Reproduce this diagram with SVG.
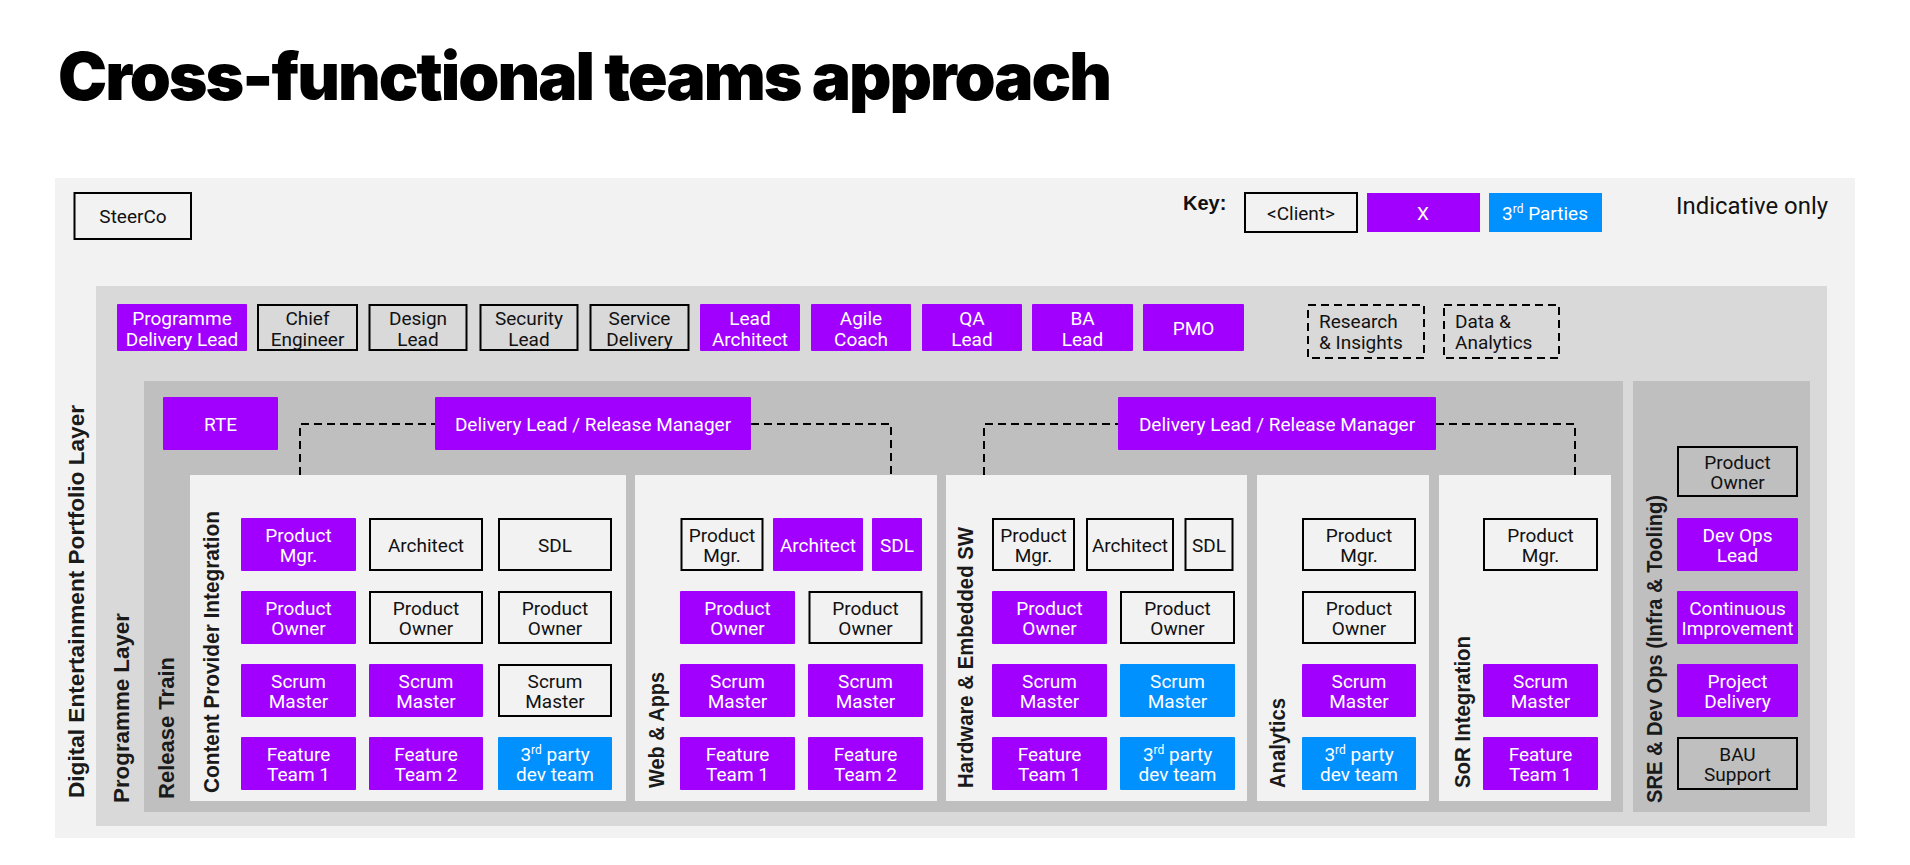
<svg xmlns="http://www.w3.org/2000/svg" width="1910" height="865" viewBox="0 0 1910 865">
<style>
.p{fill:#A100FF}
.b{fill:#0091FF}
.w{fill:#F2F2F2;stroke:#000;stroke-width:2}
.w2{fill:#D9D9D9;stroke:#000;stroke-width:2}
.w3{fill:#BFBFBF;stroke:#000;stroke-width:2}
.d{fill:#D9D9D9;stroke:#000;stroke-width:2;stroke-dasharray:8 5}
.t{font-family:Roboto,'Liberation Sans',Arial,sans-serif;font-size:19px;text-anchor:middle;fill:#111}
.tl{font-family:Roboto,'Liberation Sans',Arial,sans-serif;font-size:19px;fill:#111}
.tw{fill:#fff}
.vl{font-family:'Liberation Sans',Arial,sans-serif;font-weight:bold;font-size:22px;fill:#1a1a1a}
.sup{font-size:12px}
.con{fill:none;stroke:#000;stroke-width:2;stroke-dasharray:8 5}
</style>
<rect width="1910" height="865" fill="#fff"/>
<text x="58" y="100" font-family="Inter,'Liberation Sans',Arial,sans-serif" font-weight="900" font-size="66" letter-spacing="-2" textLength="1052" lengthAdjust="spacingAndGlyphs" fill="#000">Cross-functional teams approach</text>

<g id="panels">
<rect x="55" y="178" width="1800" height="660" fill="#F2F2F2"/>
<rect x="96" y="286" width="1731" height="540" fill="#D9D9D9"/>
<rect x="144" y="381" width="1479" height="431" fill="#BFBFBF"/>
<rect x="1633" y="381" width="177" height="431" fill="#BFBFBF"/>
<rect x="190" y="475" width="436" height="326" fill="#F2F2F2"/>
<rect x="635" y="475" width="302" height="326" fill="#F2F2F2"/>
<rect x="946" y="475" width="301" height="326" fill="#F2F2F2"/>
<rect x="1257" y="475" width="172" height="326" fill="#F2F2F2"/>
<rect x="1439" y="475" width="172" height="326" fill="#F2F2F2"/>
</g>

<g id="labels">
<text class="vl" transform="translate(84,798) rotate(-90)" textLength="393" lengthAdjust="spacingAndGlyphs">Digital Entertainment Portfolio Layer</text>
<text class="vl" transform="translate(129,803) rotate(-90)" textLength="190" lengthAdjust="spacingAndGlyphs">Programme Layer</text>
<text class="vl" transform="translate(174,799) rotate(-90)" textLength="142" lengthAdjust="spacingAndGlyphs">Release Train</text>
<text class="vl" transform="translate(219,793) rotate(-90)" textLength="282" lengthAdjust="spacingAndGlyphs">Content Provider Integration</text>
<text class="vl" transform="translate(664,788) rotate(-90)" textLength="116" lengthAdjust="spacingAndGlyphs">Web &amp; Apps</text>
<text class="vl" transform="translate(973,788) rotate(-90)" textLength="261" lengthAdjust="spacingAndGlyphs">Hardware &amp; Embedded SW</text>
<text class="vl" transform="translate(1285,788) rotate(-90)" textLength="90" lengthAdjust="spacingAndGlyphs">Analytics</text>
<text class="vl" transform="translate(1470,788) rotate(-90)" textLength="152" lengthAdjust="spacingAndGlyphs">SoR Integration</text>
<text class="vl" transform="translate(1662,803) rotate(-90)" textLength="308" lengthAdjust="spacingAndGlyphs">SRE &amp; Dev Ops (Infra &amp; Tooling)</text>
<text x="1183" y="210" font-family="'Liberation Sans',Arial,sans-serif" font-weight="bold" font-size="20" fill="#111">Key:</text>
<text x="1676" y="214" font-family="Roboto,'Liberation Sans',Arial,sans-serif" font-size="23" fill="#111" textLength="152" lengthAdjust="spacingAndGlyphs">Indicative only</text>
</g>

<g id="connectors">
<path class="con" d="M300,475 V424 H435"/>
<path class="con" d="M751,424 H891 V475"/>
<path class="con" d="M984,475 V424 H1118"/>
<path class="con" d="M1436,424 H1575 V475"/>
</g>

<g id="key-client"><rect class="w" x="1245" y="193" width="112" height="39"/><text class="t" x="1301" y="220" font-size="18">&lt;Client&gt;</text></g>
<g id="key-x"><rect class="p" x="1367" y="193" width="113" height="39"/><text class="t tw" x="1423" y="220" font-size="18">X</text></g>
<g id="key-3rd"><rect class="b" x="1489" y="193" width="113" height="39"/><text class="t tw" x="1545" y="220" font-size="18">3<tspan class="sup" dy="-7">rd</tspan><tspan dy="7"> Parties</tspan></text></g>

<g id="steerco"><rect class="w" x="74.5" y="193" width="116.5" height="46"/><text class="t" x="133" y="223">SteerCo</text></g>

<g id="prog-delivery-lead"><rect class="p" x="117" y="304" width="130" height="47" rx="1"/><text class="t tw" x="182" y="325">Programme</text><text class="t tw" x="182" y="345.5">Delivery Lead</text></g>
<g id="chief-engineer"><rect class="w2" x="258" y="305" width="99" height="45"/><text class="t" x="307.5" y="325">Chief</text><text class="t" x="307.5" y="345.5">Engineer</text></g>
<g id="design-lead"><rect class="w2" x="369.5" y="305" width="97" height="45"/><text class="t" x="418" y="325">Design</text><text class="t" x="418" y="345.5">Lead</text></g>
<g id="security-lead"><rect class="w2" x="480.5" y="305" width="97" height="45"/><text class="t" x="529" y="325">Security</text><text class="t" x="529" y="345.5">Lead</text></g>
<g id="service-delivery"><rect class="w2" x="590.5" y="305" width="98" height="45"/><text class="t" x="639.5" y="325">Service</text><text class="t" x="639.5" y="345.5">Delivery</text></g>
<g id="lead-architect"><rect class="p" x="700" y="304" width="100" height="47" rx="1"/><text class="t tw" x="750" y="325">Lead</text><text class="t tw" x="750" y="345.5">Architect</text></g>
<g id="agile-coach"><rect class="p" x="811" y="304" width="100" height="47" rx="1"/><text class="t tw" x="861" y="325">Agile</text><text class="t tw" x="861" y="345.5">Coach</text></g>
<g id="qa-lead"><rect class="p" x="922" y="304" width="100" height="47" rx="1"/><text class="t tw" x="972" y="325">QA</text><text class="t tw" x="972" y="345.5">Lead</text></g>
<g id="ba-lead"><rect class="p" x="1032" y="304" width="101" height="47" rx="1"/><text class="t tw" x="1082.5" y="325">BA</text><text class="t tw" x="1082.5" y="345.5">Lead</text></g>
<g id="pmo"><rect class="p" x="1143" y="304" width="101" height="47" rx="1"/><text class="t tw" x="1193.5" y="335">PMO</text></g>
<g id="research"><rect class="d" x="1308" y="305" width="116" height="53"/><text class="tl" x="1319" y="328">Research</text><text class="tl" x="1319" y="349">&amp; Insights</text></g>
<g id="data-analytics"><rect class="d" x="1444" y="305" width="115" height="53"/><text class="tl" x="1455" y="328">Data &amp;</text><text class="tl" x="1455" y="349">Analytics</text></g>

<g id="rte"><rect class="p" x="163" y="397" width="115" height="53" rx="1"/><text class="t tw" x="220.5" y="431">RTE</text></g>
<g id="dlrm-1"><rect class="p" x="435" y="397" width="316" height="53" rx="1"/><text class="t tw" x="593" y="431">Delivery Lead / Release Manager</text></g>
<g id="dlrm-2"><rect class="p" x="1118" y="397" width="318" height="53" rx="1"/><text class="t tw" x="1277" y="431">Delivery Lead / Release Manager</text></g>

<!-- Content Provider Integration -->
<g id="cpi-pm"><rect class="p" x="241" y="518" width="115" height="53" rx="1"/><text class="t tw" x="298.5" y="541.5">Product</text><text class="t tw" x="298.5" y="562">Mgr.</text></g>
<g id="cpi-arch"><rect class="w" x="370" y="519" width="112" height="51"/><text class="t" x="426" y="551.5">Architect</text></g>
<g id="cpi-sdl"><rect class="w" x="499" y="519" width="112" height="51"/><text class="t" x="555" y="551.5">SDL</text></g>
<g id="cpi-po1"><rect class="p" x="241" y="591" width="115" height="53" rx="1"/><text class="t tw" x="298.5" y="614.5">Product</text><text class="t tw" x="298.5" y="635">Owner</text></g>
<g id="cpi-po2"><rect class="w" x="370" y="592" width="112" height="51"/><text class="t" x="426" y="614.5">Product</text><text class="t" x="426" y="635">Owner</text></g>
<g id="cpi-po3"><rect class="w" x="499" y="592" width="112" height="51"/><text class="t" x="555" y="614.5">Product</text><text class="t" x="555" y="635">Owner</text></g>
<g id="cpi-sm1"><rect class="p" x="241" y="664" width="115" height="53" rx="1"/><text class="t tw" x="298.5" y="687.5">Scrum</text><text class="t tw" x="298.5" y="708">Master</text></g>
<g id="cpi-sm2"><rect class="p" x="369" y="664" width="114" height="53" rx="1"/><text class="t tw" x="426" y="687.5">Scrum</text><text class="t tw" x="426" y="708">Master</text></g>
<g id="cpi-sm3"><rect class="w" x="499" y="665" width="112" height="51"/><text class="t" x="555" y="687.5">Scrum</text><text class="t" x="555" y="708">Master</text></g>
<g id="cpi-ft1"><rect class="p" x="241" y="737" width="115" height="53" rx="1"/><text class="t tw" x="298.5" y="760.5">Feature</text><text class="t tw" x="298.5" y="781">Team 1</text></g>
<g id="cpi-ft2"><rect class="p" x="369" y="737" width="114" height="53" rx="1"/><text class="t tw" x="426" y="760.5">Feature</text><text class="t tw" x="426" y="781">Team 2</text></g>
<g id="cpi-3rd"><rect class="b" x="498" y="737" width="114" height="53" rx="1"/><text class="t tw" x="555" y="760.5">3<tspan class="sup" dy="-7">rd</tspan><tspan dy="7"> party</tspan></text><text class="t tw" x="555" y="781">dev team</text></g>

<!-- Web & Apps -->
<g id="wa-pm"><rect class="w" x="681.5" y="519" width="81" height="51"/><text class="t" x="722" y="541.5">Product</text><text class="t" x="722" y="562">Mgr.</text></g>
<g id="wa-arch"><rect class="p" x="773" y="518" width="90" height="53" rx="1"/><text class="t tw" x="818" y="551.5">Architect</text></g>
<g id="wa-sdl"><rect class="p" x="872" y="518" width="50" height="53" rx="1"/><text class="t tw" x="897" y="551.5">SDL</text></g>
<g id="wa-po1"><rect class="p" x="680" y="591" width="115" height="53" rx="1"/><text class="t tw" x="737.5" y="614.5">Product</text><text class="t tw" x="737.5" y="635">Owner</text></g>
<g id="wa-po2"><rect class="w" x="809.5" y="592" width="112" height="51"/><text class="t" x="865.5" y="614.5">Product</text><text class="t" x="865.5" y="635">Owner</text></g>
<g id="wa-sm1"><rect class="p" x="680" y="664" width="115" height="53" rx="1"/><text class="t tw" x="737.5" y="687.5">Scrum</text><text class="t tw" x="737.5" y="708">Master</text></g>
<g id="wa-sm2"><rect class="p" x="808" y="664" width="115" height="53" rx="1"/><text class="t tw" x="865.5" y="687.5">Scrum</text><text class="t tw" x="865.5" y="708">Master</text></g>
<g id="wa-ft1"><rect class="p" x="680" y="737" width="115" height="53" rx="1"/><text class="t tw" x="737.5" y="760.5">Feature</text><text class="t tw" x="737.5" y="781">Team 1</text></g>
<g id="wa-ft2"><rect class="p" x="808" y="737" width="115" height="53" rx="1"/><text class="t tw" x="865.5" y="760.5">Feature</text><text class="t tw" x="865.5" y="781">Team 2</text></g>

<!-- Hardware & Embedded SW -->
<g id="hw-pm"><rect class="w" x="993" y="519" width="81" height="51"/><text class="t" x="1033.5" y="541.5">Product</text><text class="t" x="1033.5" y="562">Mgr.</text></g>
<g id="hw-arch"><rect class="w" x="1087" y="519" width="86" height="51"/><text class="t" x="1130" y="551.5">Architect</text></g>
<g id="hw-sdl"><rect class="w" x="1185.5" y="519" width="47" height="51"/><text class="t" x="1209" y="551.5">SDL</text></g>
<g id="hw-po1"><rect class="p" x="992" y="591" width="115" height="53" rx="1"/><text class="t tw" x="1049.5" y="614.5">Product</text><text class="t tw" x="1049.5" y="635">Owner</text></g>
<g id="hw-po2"><rect class="w" x="1121" y="592" width="113" height="51"/><text class="t" x="1177.5" y="614.5">Product</text><text class="t" x="1177.5" y="635">Owner</text></g>
<g id="hw-sm1"><rect class="p" x="992" y="664" width="115" height="53" rx="1"/><text class="t tw" x="1049.5" y="687.5">Scrum</text><text class="t tw" x="1049.5" y="708">Master</text></g>
<g id="hw-sm2"><rect class="b" x="1120" y="664" width="115" height="53" rx="1"/><text class="t tw" x="1177.5" y="687.5">Scrum</text><text class="t tw" x="1177.5" y="708">Master</text></g>
<g id="hw-ft1"><rect class="p" x="992" y="737" width="115" height="53" rx="1"/><text class="t tw" x="1049.5" y="760.5">Feature</text><text class="t tw" x="1049.5" y="781">Team 1</text></g>
<g id="hw-3rd"><rect class="b" x="1120" y="737" width="115" height="53" rx="1"/><text class="t tw" x="1177.5" y="760.5">3<tspan class="sup" dy="-7">rd</tspan><tspan dy="7"> party</tspan></text><text class="t tw" x="1177.5" y="781">dev team</text></g>

<!-- Analytics -->
<g id="an-pm"><rect class="w" x="1303" y="519" width="112" height="51"/><text class="t" x="1359" y="541.5">Product</text><text class="t" x="1359" y="562">Mgr.</text></g>
<g id="an-po"><rect class="w" x="1303" y="592" width="112" height="51"/><text class="t" x="1359" y="614.5">Product</text><text class="t" x="1359" y="635">Owner</text></g>
<g id="an-sm"><rect class="p" x="1302" y="664" width="114" height="53" rx="1"/><text class="t tw" x="1359" y="687.5">Scrum</text><text class="t tw" x="1359" y="708">Master</text></g>
<g id="an-3rd"><rect class="b" x="1302" y="737" width="114" height="53" rx="1"/><text class="t tw" x="1359" y="760.5">3<tspan class="sup" dy="-7">rd</tspan><tspan dy="7"> party</tspan></text><text class="t tw" x="1359" y="781">dev team</text></g>

<!-- SoR Integration -->
<g id="sor-pm"><rect class="w" x="1484" y="519" width="113" height="51"/><text class="t" x="1540.5" y="541.5">Product</text><text class="t" x="1540.5" y="562">Mgr.</text></g>
<g id="sor-sm"><rect class="p" x="1483" y="664" width="115" height="53" rx="1"/><text class="t tw" x="1540.5" y="687.5">Scrum</text><text class="t tw" x="1540.5" y="708">Master</text></g>
<g id="sor-ft1"><rect class="p" x="1483" y="737" width="115" height="53" rx="1"/><text class="t tw" x="1540.5" y="760.5">Feature</text><text class="t tw" x="1540.5" y="781">Team 1</text></g>

<!-- SRE & Dev Ops -->
<g id="sre-po"><rect class="w3" x="1678" y="447" width="119" height="49"/><text class="t" x="1737.5" y="468.5">Product</text><text class="t" x="1737.5" y="489">Owner</text></g>
<g id="sre-devops"><rect class="p" x="1677" y="518" width="121" height="53" rx="1"/><text class="t tw" x="1737.5" y="541.5">Dev Ops</text><text class="t tw" x="1737.5" y="562">Lead</text></g>
<g id="sre-ci"><rect class="p" x="1677" y="591" width="121" height="53" rx="1"/><text class="t tw" x="1737.5" y="614.5">Continuous</text><text class="t tw" x="1737.5" y="635">Improvement</text></g>
<g id="sre-pd"><rect class="p" x="1677" y="664" width="121" height="53" rx="1"/><text class="t tw" x="1737.5" y="687.5">Project</text><text class="t tw" x="1737.5" y="708">Delivery</text></g>
<g id="sre-bau"><rect class="w3" x="1678" y="738" width="119" height="51"/><text class="t" x="1737.5" y="760.5">BAU</text><text class="t" x="1737.5" y="781">Support</text></g>
</svg>
